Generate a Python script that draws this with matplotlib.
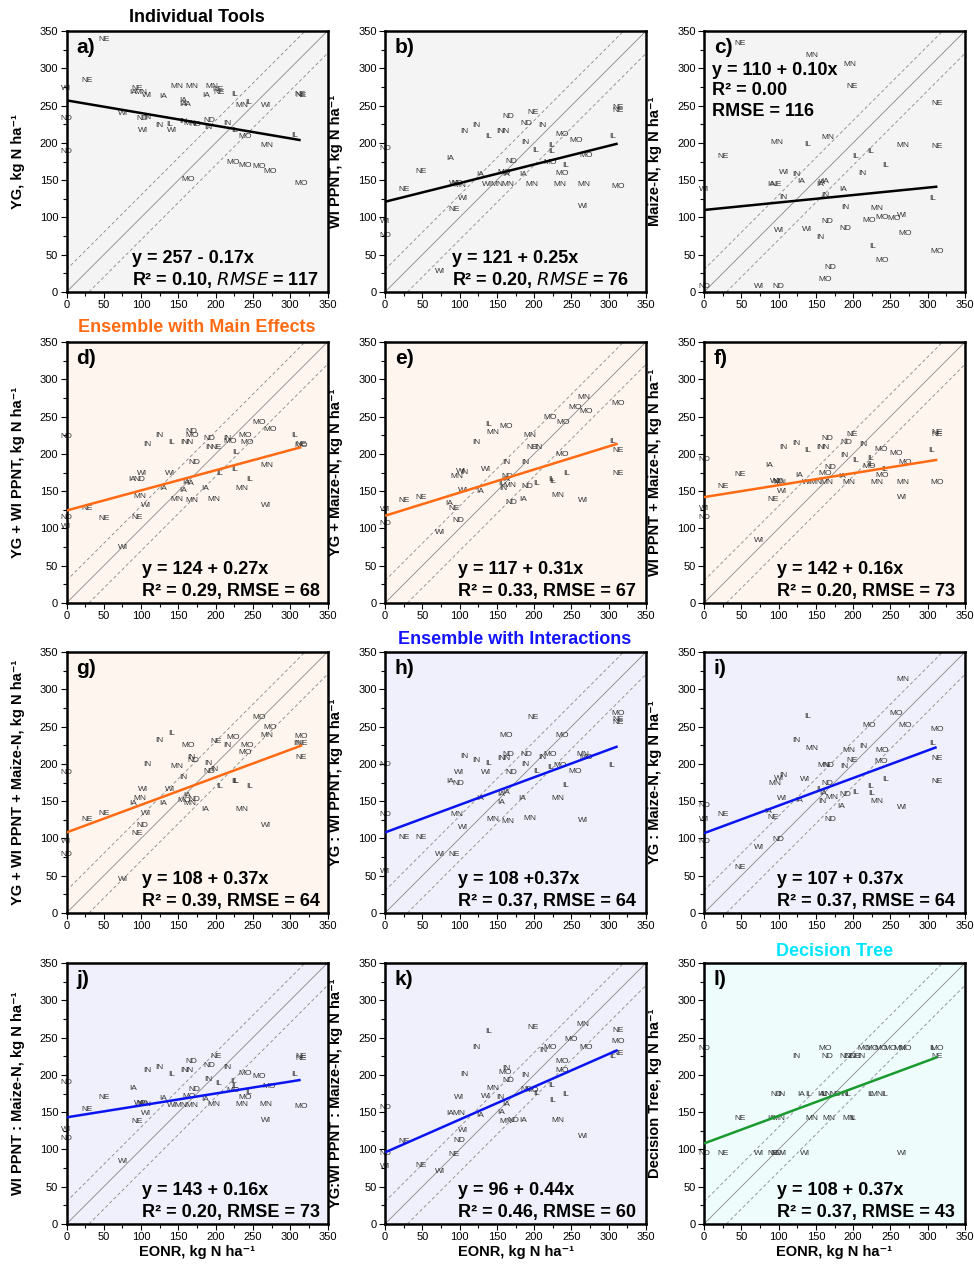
import matplotlib
matplotlib.use("Agg")
import matplotlib.pyplot as plt
from matplotlib.ticker import MultipleLocator

plt.rcParams['font.family'] = ['Liberation Sans', 'DejaVu Sans']

# ---------------- data: (state, EONR, predicted) ----------------
pts_a = [("NE",51,338),("WI",0,273),("NE",27,283),("NE",95,273),("IA",90,268),("MN",100,268),("WI",108,263),
 ("IA",130,262),("MN",148,275),("MN",168,276),("IA",157,257),("IA",157,251),("IA",162,251),
 ("IA",187,263),("MN",195,275),("NE",203,272),("NE",205,268),("IL",226,265),("MN",235,250),("IL",244,254),
 ("WI",268,250),("NE",313,265),("NE",314,264),("WI",76,240),("ND",0,233),("ND",101,232),("IN",108,234),
 ("WI",103,216),("IN",125,223),("IL",139,224),("WI",141,216),("IN",157,228),("MN",166,226),("ND",173,224),
 ("ND",192,230),("IN",190,221),("IN",215,226),("IL",226,216),("MO",239,209),("MN",268,196),("IL",306,210),
 ("ND",0,189),("MO",224,174),("MO",239,170),("MO",258,168),("MO",273,162),("MO",163,151),("MO",314,145)]
pts_b = [("NE",312,247),("NE",312,243),("ND",165,235),("NE",198,241),("ND",190,226),("IN",211,223),
 ("IN",106,215),("IN",123,223),("IL",139,209),("IN",155,215),("IN",162,215),("MO",237,211),("MO",256,203),
 ("IL",305,209),("ND",0,192),("IN",188,200),("IL",202,190),("IL",223,196),("IL",224,189),("MO",270,183),
 ("IA",87,179),("ND",169,175),("MO",221,174),("IL",242,170),("NE",49,161),("IA",127,158),("MO",160,160),
 ("IA",163,157),("IA",185,158),("MO",238,159),("NE",25,137),("WI",93,146),("ND",97,145),("MN",100,143),
 ("WI",137,144),("MN",150,144),("MN",165,144),("MN",197,144),("MN",235,144),("MN",266,144),("MO",312,142),
 ("WI",105,126),("NE",93,110),("WI",266,114),("WI",0,94),("ND",0,76),("WI",74,28)]
pts_c = [("NE",49,333),("MN",145,317),("MN",195,305),("NE",199,275),("NE",313,253),("MN",97,200),("IL",139,198),
 ("MN",166,207),("NE",25,182),("IL",203,182),("IL",224,188),("IL",244,170),("MN",266,196),("NE",312,195),
 ("WI",107,160),("IN",124,157),("IA",130,148),("IN",212,159),("IA",90,144),("NE",97,144),("IA",157,147),
 ("IA",162,148),("IA",156,144),("WI",0,138),("IA",186,138),("IN",106,127),("IN",163,130),("IL",306,126),
 ("IN",189,113),("MN",232,112),("MO",221,96),("MO",239,100),("MO",255,99),("WI",266,103),("ND",165,94),
 ("ND",190,85),("WI",100,82),("WI",138,84),("IN",156,73),("MO",270,78),("IL",226,61),("MO",312,54),
 ("MO",239,42),("ND",170,33),("MO",163,17),("ND",0,7),("WI",74,7),("ND",100,7)]
pts_d = [("ND",0,223),("IN",125,224),("IN",108,212),("IL",141,215),("ND",168,230),("MO",168,224),("IN",158,215),
 ("IN",165,215),("ND",192,221),("IN",192,208),("NE",200,208),("IN",215,221),("MO",219,217),("MO",239,224),
 ("MO",242,215),("MO",258,242),("MO",273,232),("IL",227,202),("IL",306,224),("NE",314,213),("MO",315,211),
 ("ND",171,189),("MN",268,184),("IL",206,174),("IL",226,179),("IL",245,166),("WI",101,173),("IA",88,165),
 ("ND",98,165),("WI",139,173),("IA",130,154),("IA",160,162),("IA",157,151),("IA",166,160),("IA",186,154),
 ("MN",235,153),("MN",98,143),("WI",106,131),("MN",148,139),("MN",168,137),("MN",197,139),("WI",268,131),
 ("NE",27,127),("NE",51,113),("NE",95,115),("ND",0,114),("WI",0,103),("WI",76,75)]
pts_e = [("MN",266,276),("MO",255,262),("MO",270,257),("MO",312,267),("MO",221,249),("MO",239,242),("IL",139,239),
 ("MN",145,228),("MO",162,237),("MN",194,224),("IN",123,215),("NE",197,208),("IN",205,208),("IL",305,217),
 ("NE",312,204),("MO",237,199),("IN",163,188),("IN",188,189),("WI",136,179),("WI",102,177),("IN",106,175),
 ("MN",96,170),("ND",164,170),("IA",163,165),("IL",157,160),("IN",158,153),("MN",168,157),("ND",191,156),
 ("IL",203,160),("IL",224,165),("IL",225,163),("IL",243,173),("NE",312,173),("WI",105,151),("IA",128,149),
 ("MN",232,144),("WI",266,138),("ND",170,135),("IA",185,139),("NE",25,137),("NE",49,141),("IA",86,134),
 ("NE",93,127),("ND",98,111),("WI",74,95),("WI",0,125),("ND",0,106)]
pts_f = [("NE",313,228),("NE",313,226),("ND",166,221),("NE",199,226),("ND",191,215),("IN",213,213),("IN",106,209),
 ("IN",124,214),("IL",139,204),("IN",156,209),("IN",163,209),("MO",237,206),("MO",257,200),("IL",305,204),
 ("ND",0,193),("IN",188,198),("IL",203,191),("IL",223,194),("IL",224,186),("MO",221,183),("MO",270,188),
 ("IA",87,185),("ND",170,182),("MO",163,174),("IL",242,179),("MO",239,171),("NE",49,172),("IA",128,171),
 ("IA",185,170),("NE",25,156),("WI",95,163),("ND",99,163),("MN",102,162),("WI",138,161),("MN",150,161),
 ("MN",165,161),("MN",194,162),("MN",232,162),("MN",266,162),("MO",312,161),("WI",105,150),("NE",93,139),
 ("WI",266,141),("WI",0,127),("ND",0,115),("WI",74,84)]
pts_g = [("MO",258,262),("MO",273,249),("MN",268,238),("MO",314,237),("IN",309,227),("NE",316,227),("NE",314,208),
 ("IL",141,241),("IN",125,231),("MO",163,224),("NE",200,230),("IN",215,224),("MO",224,236),("MO",242,224),
 ("MO",239,215),("IN",108,199),("MN",148,197),("IN",168,208),("ND",170,205),("IN",190,201),("ND",191,190),
 ("IN",198,193),("ND",0,189),("IN",156,182),("IL",227,177),("IL",225,177),("IL",206,170),("IL",245,170),
 ("WI",102,165),("MN",98,154),("IA",89,147),("WI",139,165),("IA",130,147),("IA",162,158),("ND",172,152),
 ("MN",165,147),("MO",158,151),("IA",186,139),("MN",235,139),("WI",106,133),("WI",268,118),("NE",27,125),
 ("NE",51,134),("ND",102,117),("NE",95,107),("WI",0,96),("ND",0,78),("WI",76,45)]
pts_h = [("MO",312,268),("NE",312,260),("NE",312,256),("NE",199,262),("MO",162,238),("MO",238,238),("IN",106,210),
 ("IN",123,205),("IL",139,201),("IN",156,207),("IN",163,207),("ND",166,212),("ND",190,212),("IN",211,208),
 ("MO",221,212),("MN",265,212),("MO",270,208),("IL",304,198),("ND",0,199),("WI",99,189),("WI",136,189),
 ("ND",169,189),("IN",188,199),("IL",203,190),("IL",222,195),("MO",235,198),("MO",255,190),("IA",88,176),
 ("ND",98,174),("IL",242,171),("IA",128,153),("IA",156,159),("IA",163,161),("IA",156,148),("IA",184,153),
 ("MN",232,153),("ND",0,132),("MN",96,132),("MN",145,125),("MN",165,123),("MN",194,127),("WI",266,124),
 ("WI",104,114),("NE",25,101),("NE",49,101),("WI",74,78),("NE",93,79),("WI",0,55)]
pts_i = [("MN",266,313),("MO",257,267),("MO",270,252),("MO",222,252),("MO",312,246),("IL",139,263),("IN",124,231),
 ("MN",145,221),("MN",194,218),("IN",213,223),("NE",199,205),("MO",239,218),("MO",238,203),("IL",306,227),
 ("NE",312,207),("MN",160,198),("ND",167,198),("IN",188,196),("NE",312,176),("IL",243,179),("IN",106,185),
 ("WI",101,180),("MN",95,173),("WI",136,179),("ND",165,173),("IL",155,165),("IA",160,160),("MN",172,155),
 ("IN",158,150),("ND",190,159),("IL",203,162),("IL",224,170),("IL",225,160),("MN",232,150),("IA",184,143),
 ("WI",266,141),("WI",105,153),("IA",128,151),("ND",0,144),("WI",0,125),("ND",0,96),("NE",25,132),
 ("IA",86,136),("NE",93,128),("ND",170,125),("ND",100,99),("WI",74,88),("NE",49,61)]
pts_j = [("NE",314,224),("NE",314,222),("ND",168,218),("NE",201,224),("ND",192,212),("IN",215,210),("IN",108,206),
 ("IN",125,210),("IL",141,201),("IN",158,206),("IN",165,206),("MO",239,202),("MO",258,198),("IL",306,201),
 ("ND",0,190),("IN",190,194),("IL",204,189),("IL",224,191),("IL",226,185),("MO",224,179),("MO",272,184),
 ("IA",90,182),("ND",171,180),("MO",165,171),("IL",244,177),("MO",240,169),("NE",51,170),("IA",130,168),
 ("IA",186,167),("NE",27,153),("WI",97,161),("ND",101,161),("MN",105,160),("WI",141,159),("MN",153,159),
 ("MN",168,159),("MN",197,160),("MN",235,160),("MN",267,160),("MO",314,157),("WI",106,148),("NE",95,137),
 ("WI",268,139),("WI",0,127),("ND",0,115),("WI",76,84)]
pts_k = [("MN",265,268),("NE",312,260),("MO",312,245),("NE",312,229),("IL",305,224),("NE",199,264),("IL",139,258),
 ("IN",123,237),("MO",249,247),("MO",270,237),("IN",212,232),("MO",221,237),("MO",238,218),("MO",237,206),
 ("IN",106,200),("IN",163,209),("MO",161,203),("ND",166,193),("IN",188,199),("MN",145,182),("WI",136,171),
 ("IN",154,169),("WI",99,170),("ND",190,180),("MO",197,179),("IL",204,175),("IL",224,186),("IL",242,174),
 ("IL",225,166),("ND",0,156),("IA",87,148),("MN",99,148),("IA",128,145),("IA",162,160),("IA",156,149),
 ("MN",162,137),("ND",172,139),("IA",185,139),("MN",232,139),("WI",266,118),("WI",105,125),("ND",99,112),
 ("NE",25,110),("ND",0,94),("WI",0,77),("NE",93,93),("NE",49,78),("WI",74,70)]
pts_l = [("ND",0,235),("MO",162,235),("IN",124,224),("ND",166,224),("ND",190,224),("ND",196,224),("NE",203,224),
 ("IN",211,224),("MO",215,235),("MO",225,235),("MO",237,235),("MO",250,235),("MN",262,235),("MO",270,235),
 ("IL",306,235),("MO",313,235),("NE",312,224),("ND",97,174),("IN",104,174),("IA",130,174),("IL",141,174),
 ("IA",157,174),("IL",160,174),("IN",166,174),("ND",176,174),("IN",188,174),("IL",193,174),("IL",223,174),
 ("MN",232,174),("IL",242,174),("NE",49,142),("IA",90,142),("MN",100,142),("MN",145,142),("MN",168,142),
 ("MN",194,142),("IL",200,142),("ND",0,95),("NE",25,95),("WI",74,95),("NE",93,95),("ND",97,95),
 ("WI",105,95),("WI",136,95),("WI",266,95)]

panel_ids = ["a", "b", "c", "d", "e", "f", "g", "h", "i", "j", "k", "l"]
panel_pts = [pts_a, pts_b, pts_c, pts_d, pts_e, pts_f, pts_g, pts_h, pts_i, pts_j, pts_k, pts_l]
intercepts = [257, 121, 110, 124, 117, 142, 108, 108, 107, 143, 96, 108]
slopes = [-0.17, 0.25, 0.10, 0.27, 0.31, 0.16, 0.37, 0.37, 0.37, 0.16, 0.44, 0.37]
eq_texts = ["y = 257 - 0.17x", "y = 121 + 0.25x", "y = 110 + 0.10x", "y = 124 + 0.27x",
            "y = 117 + 0.31x", "y = 142 + 0.16x", "y = 108 + 0.37x", "y = 108 +0.37x",
            "y = 107 + 0.37x", "y = 143 + 0.16x", "y = 96 + 0.44x", "y = 108 + 0.37x"]
r2_vals = ["0.10", "0.20", "0.00", "0.29", "0.33", "0.20", "0.39", "0.37", "0.37", "0.20", "0.46", "0.37"]
rmse_vals = ["117", "76", "116", "68", "67", "73", "64", "64", "64", "73", "60", "43"]
ylabels = ["YG", "WI PPNT", "Maize-N", "YG + WI PPNT", "YG + Maize-N", "WI PPNT + Maize-N",
           "YG + WI PPNT + Maize-N", "YG : WI PPNT", "YG : Maize-N", "WI PPNT : Maize-N",
           "YG:WI PPNT : Maize-N", "Decision Tree"]
unit = ", kg N ha\u207b\u00b9"

bg_gray, bg_peach, bg_lav, bg_cyan = "#f4f4f4", "#fdf5ee", "#f0f0fc", "#eefcfc"
bgs = [bg_gray]*3 + [bg_peach]*4 + [bg_lav]*4 + [bg_cyan]
line_cols = ["black"]*3 + ["#ff6a13"]*4 + ["#0a14f0"]*4 + ["#1a9a2e"]
eq_left = [0.25, 0.255, 0.03, 0.29, 0.278, 0.278, 0.29, 0.278, 0.278, 0.29, 0.278, 0.278]

W_fig, H_fig = 974, 1272
col_left = [66.5, 385, 704]
row_top = [31, 342, 652, 963]
AW, AH = 261, 261
EQ_FS = 13

fig = plt.figure(figsize=(W_fig/100, H_fig/100), dpi=100)

for idx, pid in enumerate(panel_ids):
    r, c = divmod(idx, 3)
    rect = [col_left[c]/W_fig, 1 - (row_top[r] + AH)/H_fig, AW/W_fig, AH/H_fig]
    ax = fig.add_axes(rect)
    ax.set_facecolor(bgs[idx])
    ax.set_xlim(0, 350)
    ax.set_ylim(0, 350)
    # 1:1 line and +/- 30 band
    ax.plot([0, 350], [0, 350], color="#888888", lw=0.6, zorder=1)
    ax.plot([0, 320], [30, 350], color="#888888", lw=0.6, ls=(0, (4, 3)), zorder=1)
    ax.plot([30, 350], [0, 320], color="#888888", lw=0.6, ls=(0, (4, 3)), zorder=1)
    pts = panel_pts[idx]
    labs = [p[0] for p in pts]
    xs = [p[1] for p in pts]
    ys = [p[2] for p in pts]
    for lab, x, y in zip(labs, xs, ys):
        ax.text(x, y, lab, fontsize=6, ha="center", va="center", color="#333333",
                clip_on=False, zorder=2)
    xmax = max(xs)
    ax.plot([0, xmax], [intercepts[idx], intercepts[idx] + slopes[idx]*xmax],
            color=line_cols[idx], lw=1.8, zorder=3, solid_capstyle="butt")
    ax.xaxis.set_major_locator(MultipleLocator(50))
    ax.yaxis.set_major_locator(MultipleLocator(50))
    ax.xaxis.set_minor_locator(MultipleLocator(25))
    ax.yaxis.set_minor_locator(MultipleLocator(25))
    ax.tick_params(which="major", direction="out", length=4, width=0.8, labelsize=8, pad=2)
    ax.tick_params(which="minor", direction="out", length=3, width=0.8)
    for s in ax.spines.values():
        s.set_linewidth(1.8)
    ax.set_ylabel(ylabels[idx] + unit, fontsize=10.5, fontweight="bold")
    ax.yaxis.set_label_coords(-0.16, 0.5)
    if r == 3:
        ax.set_xlabel("EONR" + unit, fontsize=10.5, fontweight="bold", labelpad=2)
    ax.text(0.038, 0.935, pid + ")", transform=ax.transAxes, fontsize=15,
            fontweight="bold", ha="left", va="center", zorder=4)
    if pid == "c":
        ax.text(eq_left[idx], 0.85, eq_texts[idx], transform=ax.transAxes, fontsize=EQ_FS,
                fontweight="bold", ha="left", va="center")
        ax.text(eq_left[idx], 0.773, "R\u00b2 = " + r2_vals[idx], transform=ax.transAxes,
                fontsize=EQ_FS, fontweight="bold", ha="left", va="center")
        ax.text(eq_left[idx], 0.692, "RMSE = " + rmse_vals[idx], transform=ax.transAxes,
                fontsize=EQ_FS, fontweight="bold", ha="left", va="center")
    else:
        ax.text(eq_left[idx], 0.128, eq_texts[idx], transform=ax.transAxes, fontsize=EQ_FS,
                fontweight="bold", ha="left", va="center")
        if pid in ("a", "b"):
            ax.text(eq_left[idx], 0.045,
                    "R\u00b2 = " + r2_vals[idx] + ", $\\bf{\\it{RMSE}}$ = " + rmse_vals[idx],
                    transform=ax.transAxes, fontsize=EQ_FS, fontweight="bold",
                    ha="left", va="center")
        else:
            ax.text(eq_left[idx], 0.045, "R\u00b2 = " + r2_vals[idx] + ", RMSE = " + rmse_vals[idx],
                    transform=ax.transAxes, fontsize=EQ_FS, fontweight="bold",
                    ha="left", va="center")

fig.text(197/W_fig, 1 - 17/H_fig, "Individual Tools", fontsize=13, fontweight="bold",
         ha="center", va="center", color="black")
fig.text(197/W_fig, 1 - 328/H_fig, "Ensemble with Main Effects", fontsize=13, fontweight="bold",
         ha="center", va="center", color="#ff6a13")
fig.text(515/W_fig, 1 - 640/H_fig, "Ensemble with Interactions", fontsize=13, fontweight="bold",
         ha="center", va="center", color="#1414ff")
fig.text(835/W_fig, 1 - 951/H_fig, "Decision Tree", fontsize=13, fontweight="bold",
         ha="center", va="center", color="#00e5ff")

fig.savefig("out.png", dpi=100, facecolor="white")
